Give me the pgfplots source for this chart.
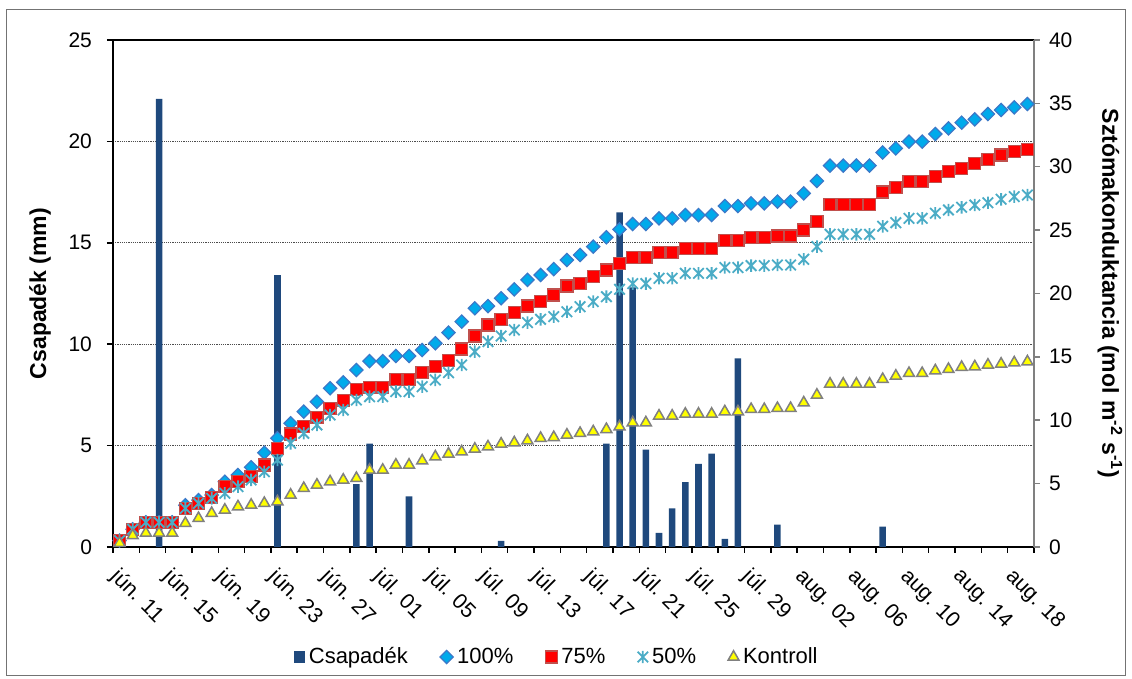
\documentclass[border=0pt]{standalone}
\usepackage{fontspec}
\setmainfont{Liberation Sans}
\usepackage{pgfplots}
\pgfplotsset{compat=1.18}
\usepackage{pgfplotstable}

\definecolor{barblue}{RGB}{31,73,125}
\definecolor{diafill}{RGB}{0,170,235}
\definecolor{diadraw}{RGB}{60,120,200}
\definecolor{sqfill}{RGB}{255,0,0}
\definecolor{sqdraw}{RGB}{192,80,77}
\definecolor{starcol}{RGB}{75,172,198}
\definecolor{trifill}{RGB}{255,255,0}
\definecolor{tridraw}{RGB}{128,128,128}

\pgfdeclareplotmark{xstar}{%
  \pgfpathmoveto{\pgfqpoint{0pt}{\pgfplotmarksize}}%
  \pgfpathlineto{\pgfqpoint{0pt}{-\pgfplotmarksize}}%
  \pgfpathmoveto{\pgfqpoint{-0.85\pgfplotmarksize}{0.85\pgfplotmarksize}}%
  \pgfpathlineto{\pgfqpoint{0.85\pgfplotmarksize}{-0.85\pgfplotmarksize}}%
  \pgfpathmoveto{\pgfqpoint{-0.85\pgfplotmarksize}{-0.85\pgfplotmarksize}}%
  \pgfpathlineto{\pgfqpoint{0.85\pgfplotmarksize}{0.85\pgfplotmarksize}}%
  \pgfusepathqstroke}

\pgfplotsset{mylegend/.style={legend image code/.code={\draw[##1] plot coordinates {(0.1cm,0cm)};}}}

\pgfplotstableread{
d p
3 22.1
12 13.4
18 3.1
19 5.1
22 2.5
29 0.3
37 5.1
38 16.5
39 12.8
40 4.8
41 0.7
42 1.9
43 3.2
44 4.1
45 4.6
46 0.4
47 9.3
50 1.1
58 1.0
}\precip

\pgfplotstableread{
d h s f k
0 0.5 0.5 0.5 0.3
1 1.4 1.4 1.4 0.9
2 1.95 1.95 1.95 1.1
3 1.95 1.95 1.95 1.1
4 1.95 1.95 1.95 1.1
5 3.3 3.05 3.05 1.87
6 3.7 3.45 3.45 2.26
7 4.1 3.9 3.84 2.66
8 5.15 4.76 4.24 2.92
9 5.68 5.15 4.76 3.18
10 6.29 5.55 5.29 3.31
11 7.44 6.47 5.94 3.45
12 8.58 7.79 6.86 3.58
13 9.76 8.92 8.18 4.1
14 10.68 9.49 8.97 4.63
15 11.46 10.23 9.63 4.89
16 12.52 10.94 10.41 5.15
17 12.99 11.54 10.81 5.29
18 13.96 12.44 11.6 5.42
19 14.66 12.6 11.86 6.07
20 14.66 12.6 11.86 6.07
21 15.07 13.23 12.26 6.47
22 15.07 13.23 12.26 6.47
23 15.54 13.75 12.65 6.8
24 16.07 14.23 13.18 7.12
25 16.91 14.7 13.75 7.34
26 17.78 15.62 14.36 7.52
27 18.83 16.65 15.41 7.73
28 19.01 17.51 16.2 7.91
29 19.62 17.96 16.65 8.13
30 20.33 18.49 17.12 8.23
31 21.07 19.01 17.7 8.39
32 21.46 19.36 17.96 8.58
33 21.93 19.88 18.17 8.65
34 22.64 20.59 18.56 8.84
35 23.04 20.8 18.96 8.97
36 23.7 21.33 19.36 9.1
37 24.43 21.85 19.75 9.28
38 25.06 22.38 20.33 9.49
39 25.48 22.86 20.78 9.81
40 25.48 22.86 20.78 9.81
41 25.93 23.22 21.2 10.34
42 25.93 23.22 21.2 10.34
43 26.19 23.57 21.59 10.49
44 26.19 23.57 21.59 10.49
45 26.19 23.57 21.59 10.49
46 26.9 24.2 22.05 10.68
47 26.9 24.2 22.05 10.68
48 27.11 24.43 22.2 10.86
49 27.11 24.43 22.2 10.86
50 27.25 24.54 22.25 10.94
51 27.25 24.54 22.25 10.94
52 27.9 25.01 22.7 11.38
53 28.88 25.67 23.7 11.99
54 30.09 27.04 24.67 12.86
55 30.09 27.04 24.67 12.86
56 30.09 27.04 24.67 12.86
57 30.09 27.04 24.67 12.86
58 31.12 28.0 25.3 13.23
59 31.45 28.38 25.59 13.49
60 31.98 28.82 25.93 13.7
61 31.98 28.82 25.93 13.7
62 32.58 29.22 26.33 13.91
63 33.03 29.61 26.59 14.02
64 33.48 29.88 26.8 14.18
65 33.74 30.27 26.98 14.23
66 34.16 30.59 27.16 14.36
67 34.48 30.93 27.43 14.44
68 34.69 31.19 27.64 14.54
69 34.95 31.38 27.77 14.62
}\cond

\begin{document}
\begin{tikzpicture}
\draw[black!55, line width=0.5pt] (-53pt,-64.5pt) rectangle (506pt,268.5pt);
\begin{axis}[
  scale only axis, width=460.5pt, height=253.5pt,
  xmin=-0.5, xmax=69.5, ymin=0, ymax=25,
  xtick={-0.5,1.5,...,69.5},
  xticklabels={jún. 11,,jún. 15,,jún. 19,,jún. 23,,jún. 27,,júl. 01,,júl. 05,,júl. 09,,júl. 13,,júl. 17,,júl. 21,,júl. 25,,júl. 29,,aug. 02,,aug. 06,,aug. 10,,aug. 14,,aug. 18,},
  ytick={0,5,...,25},
  xtick pos=bottom, ytick pos=left, tick align=outside,
  major tick length=3pt,
  axis line style={line width=1pt, black},
  every tick/.style={black, line width=0.75pt},
  ymajorgrids,
  grid style={black!70, line width=0.4pt, dash pattern=on 0.6pt off 0.5pt},
  tick label style={font=\fontsize{10.5}{12}\selectfont},
  /pgf/number format/assume math mode=true,
  xticklabel style={font=\fontsize{10.7}{12}\selectfont, xshift=4pt, yshift=-6.5pt, rotate=-45, anchor=north west, inner sep=0pt},
  yticklabel style={xshift=-4pt},
  every axis y label/.style={at={(axis description cs:-0.0793,0.5)}, rotate=90, anchor=center},
  ylabel={Csapadék (mm)},
  label style={font=\fontsize{11.5}{13}\selectfont\bfseries},
  ybar, bar width=0.5,
]
\addplot[fill=barblue, draw=none] table[x=d,y=p] {\precip};
\end{axis}
\begin{axis}[
  scale only axis, width=460.5pt, height=253.5pt,
  xmin=-0.5, xmax=69.5, ymin=0, ymax=40,
  axis x line=none, axis y line*=right,
  ytick={0,5,...,40}, tick align=outside, major tick length=3pt,
  y axis line style={-, line width=1pt, black!50},
  ytick style={black!50, line width=0.75pt},
  tick label style={font=\fontsize{10.5}{12}\selectfont},
  /pgf/number format/assume math mode=true,
  yticklabel style={xshift=1pt},
  every axis y label/.style={at={(axis description cs:1.0825,0.5)}, rotate=-90, anchor=center},
  ylabel={Sztómakonduktancia (mol m\textsuperscript{-2} s\textsuperscript{-1})},
  label style={font=\fontsize{11.5}{13}\selectfont\bfseries},
  legend columns=5,
  legend cell align=left,
  legend style={draw=none, fill=none, at={(axis description cs:0.483,-0.217)}, anchor=center,
    font=\fontsize{11}{13}\selectfont,
    /tikz/every even column/.append style={column sep=14pt}},
]
\addlegendimage{only marks, mark=square*, mark size=2.7pt, mark options={fill=barblue, draw=barblue}, mylegend}
\addlegendentry{Csapadék}
\addplot[only marks, mark=square*, mark size=2.35pt, mark options={rotate=45, fill=diafill, draw=diadraw, line width=0.6pt}, mylegend] table[x=d,y=h] {\cond};
\addlegendentry{100\%}
\addplot[only marks, mark=square*, mark size=3pt, mark options={fill=sqfill, draw=sqdraw, line width=0.7pt}, mylegend] table[x=d,y=s] {\cond};
\addlegendentry{75\%}
\addplot[only marks, mark=xstar, mark size=3.1pt, mark options={draw=starcol, line width=0.9pt}, mylegend] table[x=d,y=f] {\cond};
\addlegendentry{50\%}
\addplot[only marks, mark=triangle*, mark size=3.15pt, mark options={fill=trifill, draw=tridraw, line width=0.75pt}, mylegend] table[x=d,y=k] {\cond};
\addlegendentry{Kontroll}
\end{axis}
\pgfresetboundingbox
\path[use as bounding box] (-56.5pt,-66pt) rectangle (509.5pt,273.5pt);
\end{tikzpicture}
\end{document}
